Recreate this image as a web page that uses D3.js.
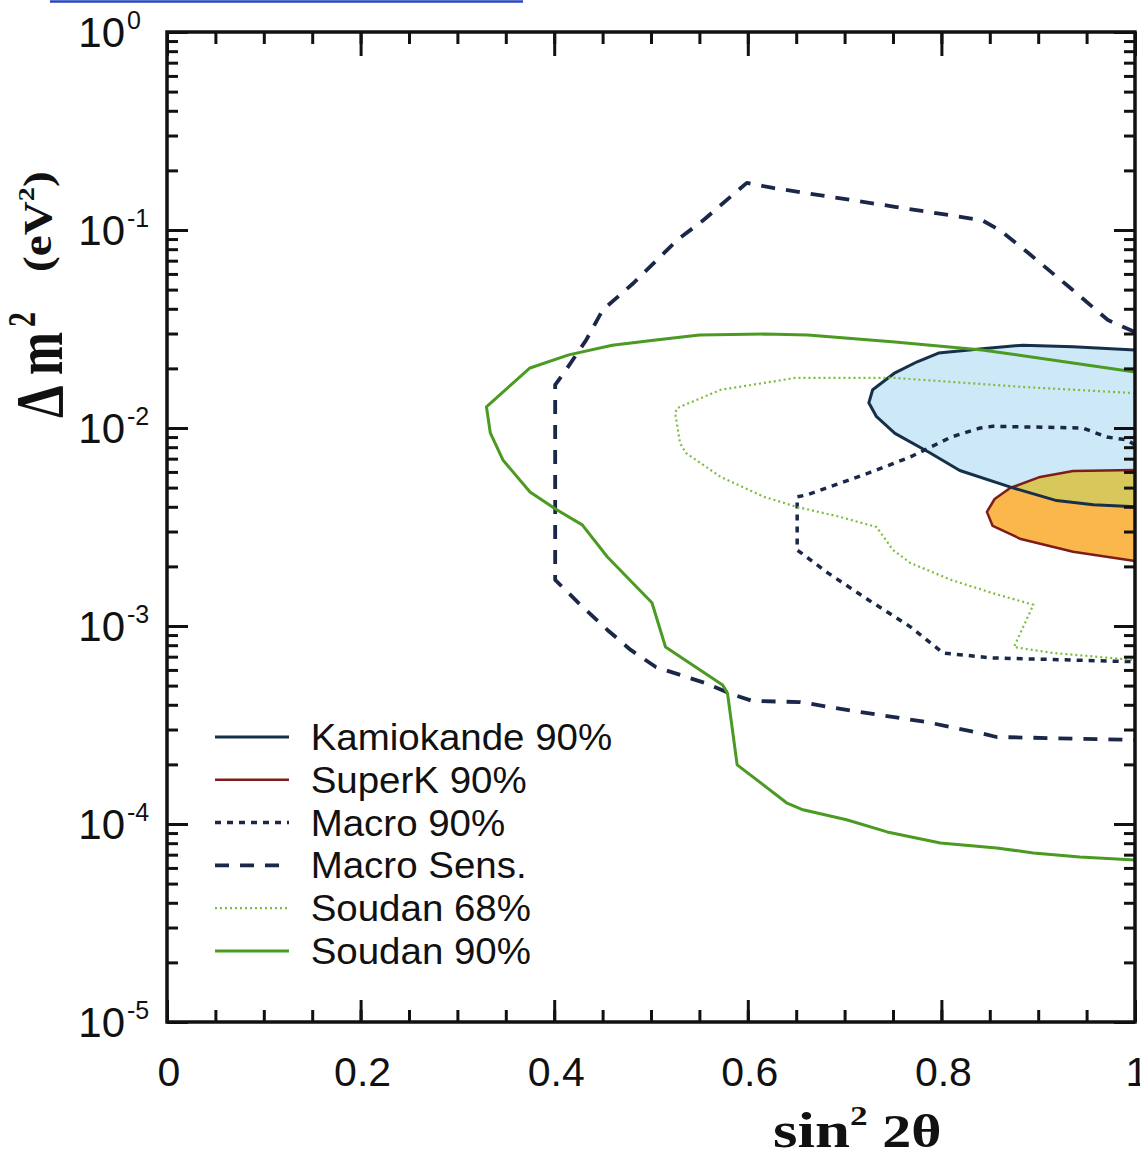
<!DOCTYPE html>
<html>
<head>
<meta charset="utf-8">
<script src="https://cdn.jsdelivr.net/npm/d3@7"></script>
<style>
  body { margin: 0; background: #fff; }
  text { font-family: "Liberation Sans", Arial, sans-serif; fill: #111; }
</style>
</head>
<body>
<svg id="chart" width="1140" height="1151"></svg>
<script>
// ---- data (sin^2 2theta, delta m^2 in eV^2) ----
var xTickValues = [0, 0.2, 0.4, 0.6, 0.8, 1];
var xTickLabels = ['0', '0.2', '0.4', '0.6', '0.8', '1'];
var yExponents = [0, -1, -2, -3, -4, -5];

var kamiokande = [[1.0,0.0248],[0.936,0.0257],[0.884,0.0262],[0.842,0.0251],[0.797,0.0239],[0.775,0.0216],
  [0.752,0.019],[0.729,0.0156],[0.725,0.0134],[0.733,0.0114],[0.752,0.0094],[0.788,0.0075],[0.819,0.0061],
  [0.873,0.005],[0.919,0.0043],[0.957,0.0041],[1.0,0.004]];

var superK = [[1.0,0.00614],[0.936,0.00607],[0.902,0.00566],[0.871,0.00498],[0.855,0.00438],[0.847,0.00377],
  [0.853,0.0032],[0.882,0.00275],[0.936,0.00237],[1.0,0.00213]];

var macro90 = [[1.0,0.0082],[0.992,0.0087],[0.971,0.009],[0.946,0.01],[0.853,0.0102],[0.84,0.01],[0.81,0.009],
  [0.768,0.00714],[0.725,0.00593],[0.661,0.00459],[0.651,0.00449],[0.651,0.00242],[0.683,0.00185],
  [0.725,0.00135],[0.768,0.00099],[0.802,0.00073],[0.852,0.00069],[1.0,0.00066]];

var macroSens = [[1.0,0.0305],[0.972,0.0351],[0.932,0.0515],[0.886,0.0793],[0.86,0.1],[0.842,0.112],[0.752,0.131],
  [0.626,0.163],[0.599,0.173],[0.582,0.147],[0.554,0.112],[0.527,0.0889],[0.482,0.054],[0.45,0.0394],
  [0.433,0.0278],[0.412,0.0196],[0.401,0.0165],[0.401,0.00171],[0.425,0.00131],[0.455,0.000955],
  [0.479,0.000757],[0.505,0.000621],[0.556,0.000515],[0.58,0.000459],[0.605,0.000418],[0.654,0.000413],
  [0.709,0.000372],[0.785,0.000327],[0.84,0.000288],[0.857,0.000275],[1.0,0.000266]];

var soudan68 = [[1.0,0.015],[0.886,0.0161],[0.752,0.0179],[0.649,0.0179],[0.617,0.0169],[0.572,0.0156],
  [0.527,0.0126],[0.525,0.0119],[0.53,0.0084],[0.536,0.00748],[0.572,0.00566],[0.617,0.00449],[0.651,0.00399],
  [0.695,0.00356],[0.733,0.00316],[0.75,0.00242],[0.768,0.00208],[0.81,0.00171],[0.852,0.00147],
  [0.895,0.00128],[0.875,0.000783],[0.915,0.000731],[1.0,0.000673]];

var soudan90 = [[1.0,0.0192],[0.842,0.0248],[0.752,0.0272],[0.662,0.0295],[0.617,0.0298],[0.55,0.0295],
  [0.505,0.0278],[0.46,0.0262],[0.415,0.0234],[0.375,0.0201],[0.33,0.0128],[0.334,0.00944],[0.347,0.0069],
  [0.375,0.00475],[0.403,0.00385],[0.429,0.00324],[0.455,0.00223],[0.501,0.00131],[0.515,0.000783],
  [0.574,0.000504],[0.579,0.000459],[0.589,0.000199],[0.64,0.000128],[0.657,0.000118],[0.702,0.000105],
  [0.744,0.0000912],[0.799,0.0000802],[0.857,0.0000757],[0.895,0.0000714],[0.943,0.0000681],[1.0,0.0000658]];

var legendLabels = ['Kamiokande 90%', 'SuperK 90%', 'Macro 90%', 'Macro Sens.', 'Soudan 68%', 'Soudan 90%'];

(function() {
  // ---- layout ----
  var pl = 167, pr = 1135, pt = 32, pb = 1022;
  var svg = d3.select('#chart');

  var x = d3.scaleLinear().domain([0, 1]).range([pl, pr]);
  var y = d3.scaleLog().domain([1e-5, 1]).range([pb, pt]);

  var line = d3.line().x(function(d) { return x(d[0]); }).y(function(d) { return y(d[1]); });

  // stray link underline at the very top of the scan
  svg.append('line').attr('x1', 50).attr('x2', 523).attr('y1', 1.5).attr('y2', 1.5)
    .style('stroke', '#2a45c0').style('stroke-width', 2.5);

  // ---- filled regions ----
  var defs = svg.append('defs');
  defs.append('clipPath').attr('id', 'kamClip')
    .append('path').attr('d', line(kamiokande) + 'Z');

  svg.append('path').attr('d', line(superK) + 'Z').style('fill', '#f9b74c');
  svg.append('path').attr('d', line(kamiokande) + 'Z').style('fill', '#cde8f6');
  svg.append('path').attr('d', line(superK) + 'Z').attr('clip-path', 'url(#kamClip)').style('fill', '#d8c85c');

  // ---- styles ----
  var styles = {
    kam:   { stroke: '#17304a', width: 3,   dash: null },
    superk:{ stroke: '#7e1c1c', width: 2.5, dash: null },
    m90:   { stroke: '#1b2748', width: 3.5, dash: '6,6' },
    msens: { stroke: '#1b2748', width: 3.8, dash: '14,11' },
    s68:   { stroke: '#7cbd3c', width: 2.2, dash: '2,3' },
    s90:   { stroke: '#4b9a22', width: 3,   dash: null }
  };
  var order = ['kam', 'superk', 'm90', 'msens', 's68', 's90'];

  function styled(sel, s) {
    sel.style('fill', 'none').style('stroke', s.stroke).style('stroke-width', s.width)
      .style('stroke-linejoin', 'round');
    if (s.dash) sel.style('stroke-dasharray', s.dash);
    return sel;
  }

  styled(svg.append('path').attr('d', line(superK)), styles.superk);
  styled(svg.append('path').attr('d', line(kamiokande)), styles.kam);
  styled(svg.append('path').attr('d', line(macroSens)), styles.msens);
  styled(svg.append('path').attr('d', line(macro90)), styles.m90);
  styled(svg.append('path').attr('d', line(soudan68)), styles.s68);
  styled(svg.append('path').attr('d', line(soudan90)), styles.s90);

  // ---- axes (ticks point inward) ----
  var xMinor = d3.range(0, 1.0001, 0.05);
  var yAll = [];
  for (var e = -5; e < 0; e++) for (var k = 1; k < 10; k++) yAll.push(k * Math.pow(10, e));
  yAll.push(1);
  var yMajor = yExponents.map(function(p) { return Math.pow(10, p); });

  function axisStyle(g) {
    g.select('.domain').remove();
    g.selectAll('line').style('stroke', '#111').style('stroke-width', 3);
  }
  svg.append('g').attr('transform', 'translate(0,' + pb + ')')
    .call(d3.axisBottom(x).tickValues(xMinor).tickSize(-12).tickFormat('')).call(axisStyle);
  svg.append('g').attr('transform', 'translate(0,' + pb + ')')
    .call(d3.axisBottom(x).tickValues(xTickValues).tickSize(-22).tickFormat('')).call(axisStyle);
  svg.append('g').attr('transform', 'translate(0,' + pt + ')')
    .call(d3.axisTop(x).tickValues(xMinor).tickSize(-12).tickFormat('')).call(axisStyle);
  svg.append('g').attr('transform', 'translate(0,' + pt + ')')
    .call(d3.axisTop(x).tickValues(xTickValues).tickSize(-24).tickFormat('')).call(axisStyle);
  svg.append('g').attr('transform', 'translate(' + pl + ',0)')
    .call(d3.axisLeft(y).tickValues(yAll).tickSize(-11).tickFormat('')).call(axisStyle);
  svg.append('g').attr('transform', 'translate(' + pl + ',0)')
    .call(d3.axisLeft(y).tickValues(yMajor).tickSize(-21).tickFormat('')).call(axisStyle);
  svg.append('g').attr('transform', 'translate(' + pr + ',0)')
    .call(d3.axisRight(y).tickValues(yAll).tickSize(-11).tickFormat('')).call(axisStyle);
  svg.append('g').attr('transform', 'translate(' + pr + ',0)')
    .call(d3.axisRight(y).tickValues(yMajor).tickSize(-21).tickFormat('')).call(axisStyle);

  svg.append('rect').attr('x', pl).attr('y', pt).attr('width', pr - pl).attr('height', pb - pt)
    .style('fill', 'none').style('stroke', '#111').style('stroke-width', 3.5);

  // tick labels
  svg.selectAll('text.xl').data(xTickValues).enter().append('text').attr('class', 'xl')
    .attr('x', function(d) { return x(d) + 2; }).attr('y', 1086)
    .attr('text-anchor', 'middle').style('font-size', '41px')
    .text(function(d, i) { return xTickLabels[i]; });

  var yl = svg.selectAll('g.yl').data(yExponents).enter().append('g').attr('class', 'yl')
    .attr('transform', function(d) { return 'translate(125,' + y(Math.pow(10, d)) + ')'; });
  yl.append('text').attr('text-anchor', 'end').attr('y', 15).style('font-size', '42px').text('10');
  yl.append('text').attr('x', 2).attr('y', -3).style('font-size', '25px')
    .text(function(d) { return d === 0 ? '0' : '-' + Math.abs(d); });

  // axis titles
  var serif = '"Liberation Serif", "Times New Roman", serif';
  var xt = svg.append('text').attr('transform', 'translate(773,1147) scale(1.26,1)')
    .style('font-family', serif).style('font-weight', 'bold').style('font-size', '50px');
  xt.append('tspan').text('sin');
  xt.append('tspan').attr('dy', -22).style('font-size', '28px').text('2');
  xt.append('tspan').attr('dy', 22).style('font-size', '46px').text(' 2θ');

  var yt = svg.append('text').attr('transform', 'translate(62,418) scale(1.3,1) rotate(-90)')
    .style('font-family', serif).style('font-weight', 'bold').style('font-size', '52px');
  yt.append('tspan').text('Δ m');
  yt.append('tspan').attr('dx', 5).attr('dy', -21).style('font-size', '30px').text('2');

  var yt2 = svg.append('text').attr('transform', 'translate(51,272) scale(1,1.18) rotate(-90)')
    .style('font-family', serif).style('font-weight', 'bold').style('font-size', '40px');
  yt2.append('tspan').text('(eV');
  yt2.append('tspan').attr('dy', -17).style('font-size', '24px').text('2');
  yt2.append('tspan').attr('dy', 17).text(')');

  // legend
  var legend = svg.selectAll('g.leg').data(legendLabels).enter().append('g').attr('class', 'leg')
    .attr('transform', function(d, i) { return 'translate(215,' + (737 + i * 42.8) + ')'; });
  legend.each(function(d, i) {
    var g = d3.select(this);
    styled(g.append('line').attr('x1', 0).attr('x2', 74).attr('y1', 0).attr('y2', 0), styles[order[i]]);
    g.append('text').attr('x', 92).attr('y', 13).style('font-size', '37px')
      .attr('transform', 'scale(1.04,1)').text(d);
  });
})();
</script>
</body>
</html>
